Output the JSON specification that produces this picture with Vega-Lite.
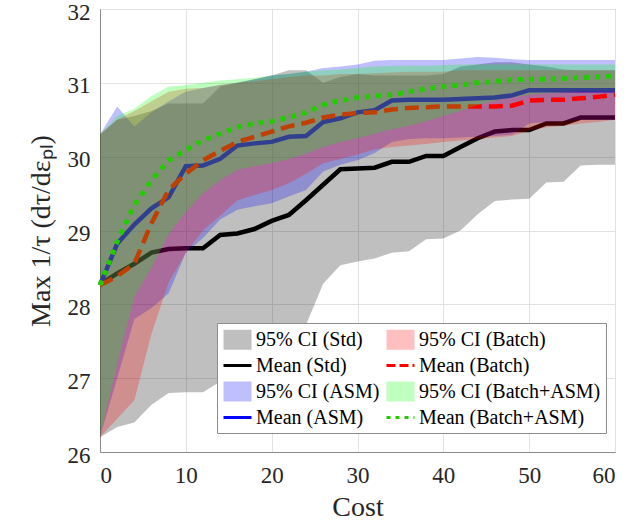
{
  "$schema": "https://vega.github.io/schema/vega-lite/v6.json",
  "width": 515,
  "height": 443,
  "autosize": {"type": "none"},
  "padding": {"left": 100, "top": 9, "right": 14, "bottom": 73},
  "background": "white",
  "datasets": {
    "std": [
      {"cost":0,"mean":28.27,"lo":26.2,"hi":30.3},{"cost":2,"mean":28.42,"lo":26.34,"hi":30.5},{"cost":4,"mean":28.55,"lo":26.4,"hi":30.55},{"cost":6,"mean":28.7,"lo":26.64,"hi":30.62},{"cost":8,"mean":28.75,"lo":26.8,"hi":30.72},{"cost":10,"mean":28.76,"lo":26.81,"hi":30.72},{"cost":12,"mean":28.76,"lo":26.81,"hi":30.72},{"cost":14,"mean":28.94,"lo":26.95,"hi":30.95},{"cost":16,"mean":28.96,"lo":27.05,"hi":31.0},{"cost":18,"mean":29.02,"lo":27.15,"hi":31.05},{"cost":20,"mean":29.13,"lo":27.3,"hi":31.1},{"cost":22,"mean":29.21,"lo":27.5,"hi":31.17},{"cost":24,"mean":29.41,"lo":27.72,"hi":31.17},{"cost":26,"mean":29.62,"lo":28.28,"hi":31.0},{"cost":28,"mean":29.83,"lo":28.53,"hi":31.08},{"cost":30,"mean":29.84,"lo":28.58,"hi":31.12},{"cost":32,"mean":29.85,"lo":28.62,"hi":31.1},{"cost":34,"mean":29.93,"lo":28.7,"hi":31.1},{"cost":36,"mean":29.93,"lo":28.72,"hi":31.1},{"cost":38,"mean":30.01,"lo":28.88,"hi":31.1},{"cost":40,"mean":30.01,"lo":28.89,"hi":31.12},{"cost":42,"mean":30.13,"lo":29.0,"hi":31.22},{"cost":44,"mean":30.25,"lo":29.22,"hi":31.25},{"cost":46,"mean":30.34,"lo":29.4,"hi":31.28},{"cost":48,"mean":30.36,"lo":29.42,"hi":31.28},{"cost":50,"mean":30.36,"lo":29.43,"hi":31.25},{"cost":52,"mean":30.45,"lo":29.65,"hi":31.22},{"cost":54,"mean":30.45,"lo":29.66,"hi":31.18},{"cost":56,"mean":30.53,"lo":29.88,"hi":31.17},{"cost":58,"mean":30.53,"lo":29.89,"hi":31.17},{"cost":60,"mean":30.53,"lo":29.89,"hi":31.17}
    ],
    "asm": [
      {"cost":0,"mean":28.26,"lo":26.2,"hi":30.3},{"cost":2,"mean":28.82,"lo":27.0,"hi":30.68},{"cost":4,"mean":29.08,"lo":27.8,"hi":30.41},{"cost":6,"mean":29.3,"lo":27.95,"hi":30.6},{"cost":8,"mean":29.45,"lo":28.15,"hi":30.75},{"cost":10,"mean":29.87,"lo":28.7,"hi":30.88},{"cost":12,"mean":29.88,"lo":28.9,"hi":30.93},{"cost":14,"mean":29.97,"lo":29.15,"hi":30.97},{"cost":16,"mean":30.15,"lo":29.28,"hi":31.0},{"cost":18,"mean":30.18,"lo":29.33,"hi":31.05},{"cost":20,"mean":30.2,"lo":29.37,"hi":31.1},{"cost":22,"mean":30.27,"lo":29.46,"hi":31.12},{"cost":24,"mean":30.28,"lo":29.55,"hi":31.15},{"cost":26,"mean":30.47,"lo":29.8,"hi":31.2},{"cost":28,"mean":30.52,"lo":29.89,"hi":31.22},{"cost":30,"mean":30.6,"lo":29.95,"hi":31.25},{"cost":32,"mean":30.63,"lo":30.05,"hi":31.3},{"cost":34,"mean":30.76,"lo":30.2,"hi":31.31},{"cost":36,"mean":30.77,"lo":30.24,"hi":31.31},{"cost":38,"mean":30.77,"lo":30.25,"hi":31.31},{"cost":40,"mean":30.77,"lo":30.25,"hi":31.31},{"cost":42,"mean":30.78,"lo":30.26,"hi":31.33},{"cost":44,"mean":30.79,"lo":30.27,"hi":31.35},{"cost":46,"mean":30.8,"lo":30.28,"hi":31.34},{"cost":48,"mean":30.83,"lo":30.3,"hi":31.32},{"cost":50,"mean":30.9,"lo":30.45,"hi":31.31},{"cost":52,"mean":30.9,"lo":30.47,"hi":31.31},{"cost":54,"mean":30.9,"lo":30.48,"hi":31.31},{"cost":56,"mean":30.9,"lo":30.5,"hi":31.31},{"cost":58,"mean":30.9,"lo":30.5,"hi":31.31},{"cost":60,"mean":30.9,"lo":30.5,"hi":31.31}
    ],
    "batch": [
      {"cost":0,"mean":28.26,"lo":26.2,"hi":30.3},{"cost":2,"mean":28.38,"lo":26.45,"hi":30.5},{"cost":4,"mean":28.55,"lo":26.7,"hi":30.62},{"cost":6,"mean":29.1,"lo":27.6,"hi":30.75},{"cost":8,"mean":29.55,"lo":28.3,"hi":30.88},{"cost":10,"mean":29.77,"lo":28.7,"hi":30.92},{"cost":12,"mean":29.95,"lo":29.0,"hi":30.93},{"cost":14,"mean":30.08,"lo":29.2,"hi":30.97},{"cost":16,"mean":30.2,"lo":29.41,"hi":31.0},{"cost":18,"mean":30.27,"lo":29.48,"hi":31.02},{"cost":20,"mean":30.34,"lo":29.55,"hi":31.05},{"cost":22,"mean":30.41,"lo":29.64,"hi":31.08},{"cost":24,"mean":30.46,"lo":29.77,"hi":31.1},{"cost":26,"mean":30.53,"lo":29.91,"hi":31.1},{"cost":28,"mean":30.57,"lo":29.97,"hi":31.12},{"cost":30,"mean":30.59,"lo":30.03,"hi":31.12},{"cost":32,"mean":30.6,"lo":30.1,"hi":31.13},{"cost":34,"mean":30.64,"lo":30.13,"hi":31.14},{"cost":36,"mean":30.66,"lo":30.15,"hi":31.15},{"cost":38,"mean":30.67,"lo":30.17,"hi":31.15},{"cost":40,"mean":30.68,"lo":30.2,"hi":31.15},{"cost":42,"mean":30.68,"lo":30.22,"hi":31.17},{"cost":44,"mean":30.68,"lo":30.24,"hi":31.17},{"cost":46,"mean":30.68,"lo":30.26,"hi":31.17},{"cost":48,"mean":30.69,"lo":30.28,"hi":31.17},{"cost":50,"mean":30.76,"lo":30.35,"hi":31.17},{"cost":52,"mean":30.77,"lo":30.4,"hi":31.17},{"cost":54,"mean":30.77,"lo":30.42,"hi":31.17},{"cost":56,"mean":30.79,"lo":30.45,"hi":31.17},{"cost":58,"mean":30.81,"lo":30.47,"hi":31.17},{"cost":60,"mean":30.84,"lo":30.5,"hi":31.17}
    ],
    "both": [
      {"cost":0,"mean":28.26,"lo":26.2,"hi":30.3},{"cost":2,"mean":28.85,"lo":27.2,"hi":30.55},{"cost":4,"mean":29.35,"lo":28.1,"hi":30.65},{"cost":6,"mean":29.68,"lo":28.5,"hi":30.82},{"cost":8,"mean":29.95,"lo":28.95,"hi":30.95},{"cost":10,"mean":30.09,"lo":29.25,"hi":30.97},{"cost":12,"mean":30.22,"lo":29.5,"hi":31.0},{"cost":14,"mean":30.31,"lo":29.68,"hi":31.03},{"cost":16,"mean":30.4,"lo":29.82,"hi":31.05},{"cost":18,"mean":30.45,"lo":29.87,"hi":31.07},{"cost":20,"mean":30.48,"lo":29.91,"hi":31.1},{"cost":22,"mean":30.53,"lo":29.97,"hi":31.12},{"cost":24,"mean":30.6,"lo":30.04,"hi":31.15},{"cost":26,"mean":30.7,"lo":30.13,"hi":31.17},{"cost":28,"mean":30.76,"lo":30.2,"hi":31.18},{"cost":30,"mean":30.8,"lo":30.25,"hi":31.2},{"cost":32,"mean":30.82,"lo":30.31,"hi":31.22},{"cost":34,"mean":30.84,"lo":30.37,"hi":31.23},{"cost":36,"mean":30.88,"lo":30.42,"hi":31.23},{"cost":38,"mean":30.92,"lo":30.48,"hi":31.23},{"cost":40,"mean":30.95,"lo":30.55,"hi":31.24},{"cost":42,"mean":30.97,"lo":30.62,"hi":31.25},{"cost":44,"mean":31.0,"lo":30.7,"hi":31.25},{"cost":46,"mean":31.02,"lo":30.76,"hi":31.25},{"cost":48,"mean":31.04,"lo":30.8,"hi":31.25},{"cost":50,"mean":31.05,"lo":30.84,"hi":31.25},{"cost":52,"mean":31.05,"lo":30.86,"hi":31.25},{"cost":54,"mean":31.06,"lo":30.87,"hi":31.25},{"cost":56,"mean":31.07,"lo":30.88,"hi":31.25},{"cost":58,"mean":31.08,"lo":30.88,"hi":31.25},{"cost":60,"mean":31.09,"lo":30.88,"hi":31.25}
    ]
  },
  "layer": [
    {
      "data": {"name": "std"},
      "mark": {"type": "area", "fillOpacity": 0.25},
      "encoding": {
        "x": {"field": "cost", "type": "quantitative", "scale": {"domain": [0, 60], "nice": false}, "axis": {"values": [0,10,20,30,40,50,60], "format": "d", "title": "Cost", "grid": true, "ticks": false, "labelFont": "Liberation Serif", "labelPadding": 12, "titlePadding": 6}},
        "y": {"field": "lo", "type": "quantitative", "scale": {"domain": [26, 32], "nice": false}, "axis": {"values": [26,27,28,29,30,31,32], "format": "d", "title": "Max 1/τ (dτ/dεₚₗ)", "grid": true, "ticks": false, "labelFont": "Liberation Serif", "labelPadding": 10, "labelOffset": 3, "titlePadding": 12}},
        "y2": {"field": "hi"},
        "color": {"datum": "95% CI (Std)"}
      }
    },
    {
      "data": {"name": "std"},
      "mark": {"type": "line", "strokeWidth": 4.5},
      "encoding": {
        "x": {"field": "cost", "type": "quantitative"},
        "y": {"field": "mean", "type": "quantitative"},
        "color": {"datum": "Mean (Std)"}
      }
    },
    {
      "data": {"name": "asm"},
      "mark": {"type": "area", "fillOpacity": 0.25},
      "encoding": {
        "x": {"field": "cost", "type": "quantitative"},
        "y": {"field": "lo", "type": "quantitative"},
        "y2": {"field": "hi"},
        "color": {"datum": "95% CI (ASM)"}
      }
    },
    {
      "data": {"name": "asm"},
      "mark": {"type": "line", "strokeWidth": 4.5},
      "encoding": {
        "x": {"field": "cost", "type": "quantitative"},
        "y": {"field": "mean", "type": "quantitative"},
        "color": {"datum": "Mean (ASM)"}
      }
    },
    {
      "data": {"name": "batch"},
      "mark": {"type": "area", "fillOpacity": 0.25},
      "encoding": {
        "x": {"field": "cost", "type": "quantitative"},
        "y": {"field": "lo", "type": "quantitative"},
        "y2": {"field": "hi"},
        "color": {"datum": "95% CI (Batch)"}
      }
    },
    {
      "data": {"name": "batch"},
      "mark": {"type": "line", "strokeWidth": 4.5, "strokeDash": [14, 7]},
      "encoding": {
        "x": {"field": "cost", "type": "quantitative"},
        "y": {"field": "mean", "type": "quantitative"},
        "color": {"datum": "Mean (Batch)"}
      }
    },
    {
      "data": {"name": "both"},
      "mark": {"type": "area", "fillOpacity": 0.25},
      "encoding": {
        "x": {"field": "cost", "type": "quantitative"},
        "y": {"field": "lo", "type": "quantitative"},
        "y2": {"field": "hi"},
        "color": {"datum": "95% CI (Batch+ASM)"}
      }
    },
    {
      "data": {"name": "both"},
      "mark": {"type": "line", "strokeWidth": 5, "strokeDash": [5, 6], "strokeCap": "butt"},
      "encoding": {
        "x": {"field": "cost", "type": "quantitative"},
        "y": {"field": "mean", "type": "quantitative"},
        "color": {
          "datum": "Mean (Batch+ASM)",
          "scale": {
            "domain": ["95% CI (Std)", "Mean (Std)", "95% CI (ASM)", "Mean (ASM)", "95% CI (Batch)", "Mean (Batch)", "95% CI (Batch+ASM)", "Mean (Batch+ASM)"],
            "range": ["#000000", "#000000", "#0000ff", "#0000ff", "#ff0000", "#ff0000", "#00ff00", "#22cc00"]
          },
          "legend": {
            "title": null,
            "orient": "none",
            "legendX": 117,
            "legendY": 314,
            "columns": 2,
            "columnPadding": 0,
            "rowPadding": 4,
            "padding": 5,
            "fillColor": "white",
            "strokeColor": "#8c8c8c",
            "labelFont": "Liberation Serif",
            "labelFontSize": 20,
            "labelColor": "#000000",
            "labelOffset": 11,
            "labelLimit": 400,
            "symbolSize": 400,
            "encode": {
              "labels": {
                "update": {
                  "font": {"value": "Liberation Serif"},
                  "fontSize": {"value": 20}
                }
              },
              "symbols": {
                "update": {
                  "shape": {"signal": "indexof(datum.label, 'Mean') === 0 ? 'M-1,0H1.8' : 'M-1,-1H1.8V1H-1Z'"},
                  "fill": {"signal": "indexof(datum.label, 'Mean') === 0 ? 'transparent' : scale('color', datum.value)"},
                  "fillOpacity": {"value": 0.25},
                  "stroke": {"signal": "scale('color', datum.value)"},
                  "strokeOpacity": {"signal": "indexof(datum.label, 'Mean') === 0 ? 1 : 0"},
                  "strokeWidth": {"value": 3},
                  "strokeDash": {"signal": "datum.label === 'Mean (Batch)' ? [9, 4] : datum.label === 'Mean (Batch+ASM)' ? [4, 5] : [1, 0]"},
                  "opacity": {"value": 1}
                }
              }
            }
          }
        }
      }
    }
  ],
  "config": {
    "view": {"stroke": "#8a8a8a", "strokeWidth": 1},
    "axis": {
      "labelFont": "Liberation Serif",
      "titleFont": "Liberation Serif",
      "labelFontSize": 23,
      "titleFontSize": 28,
      "titleFontWeight": "normal",
      "labelColor": "#262626",
      "titleColor": "#262626",
      "domainColor": "#8a8a8a",
      "tickColor": "#8a8a8a",
      "gridColor": "#e2e2e2",
      "gridWidth": 1
    },
    "legend": {"labelFont": "Liberation Serif"}
  }
}
